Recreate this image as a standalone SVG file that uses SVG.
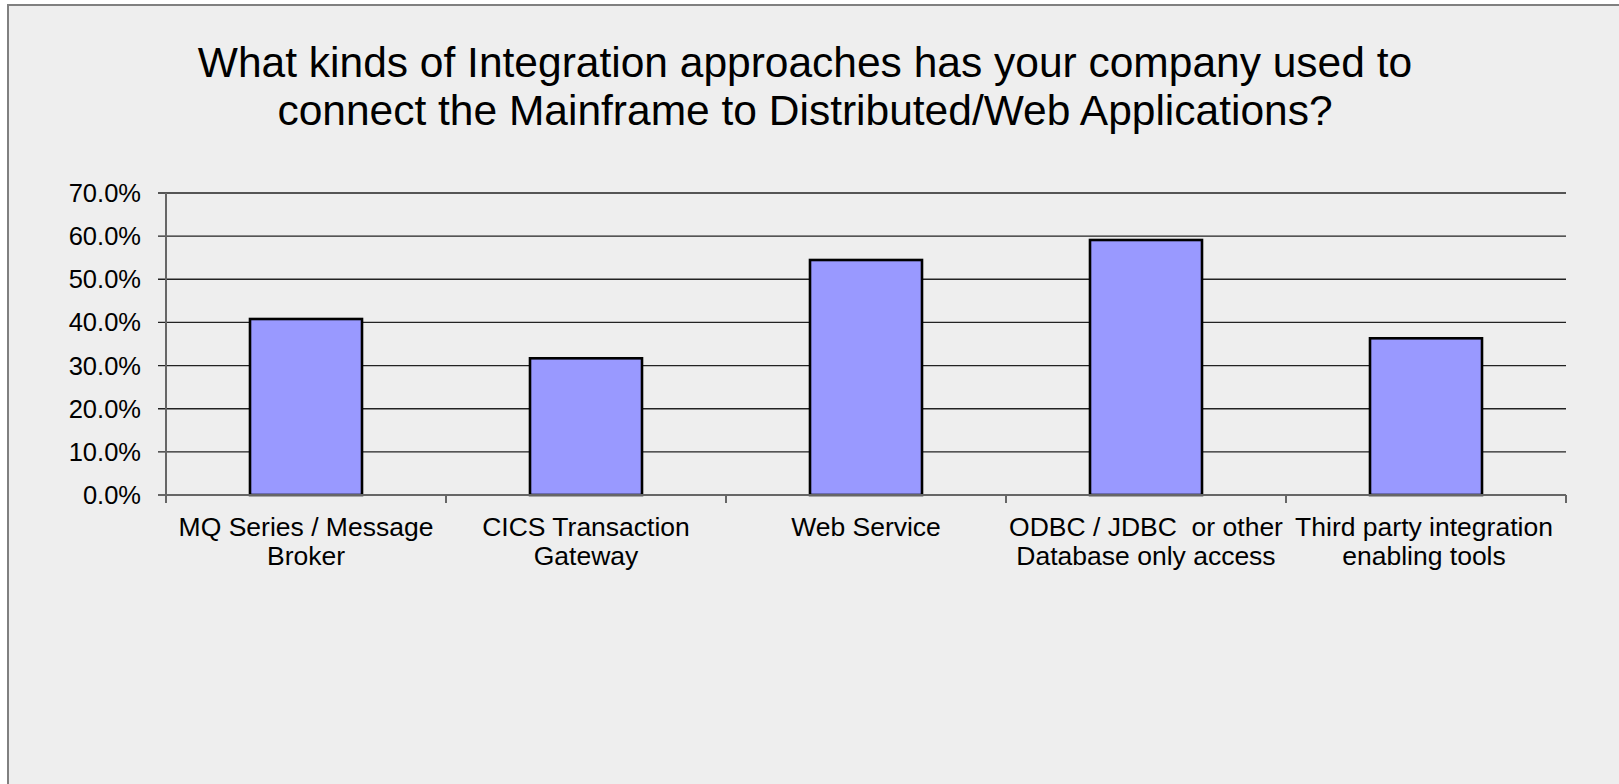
<svg xmlns="http://www.w3.org/2000/svg" width="1619" height="784" viewBox="0 0 1619 784">
  <style>
    text { font-family: "Liberation Sans", Arial, sans-serif; fill: #000; }
    .title { font-size: 42.5px; text-anchor: middle; }
    .ylab { font-size: 25.5px; text-anchor: end; }
    .xlab { font-size: 26.5px; text-anchor: middle; }
    .grid { stroke: #222; stroke-width: 1.4; fill: none; }
    .axis { stroke: #666; stroke-width: 2; fill: none; }
    .bar { fill: #9999FF; stroke: #000; stroke-width: 2.6; }
  </style>
  <rect x="0" y="0" width="1619" height="784" fill="#ffffff"/>
  <rect id="frame" x="8" y="5" width="1700" height="900" fill="#EEEEEE" stroke="#808080" stroke-width="2"/>

  <g id="title">
    <text class="title" x="805" y="77">What kinds of Integration approaches has your company used to</text>
    <text class="title" x="805" y="125">connect the Mainframe to Distributed/Web Applications?</text>
  </g>

  <g id="gridlines">
    <line class="grid" x1="158" y1="193" x2="1566" y2="193"/>
    <line class="grid" x1="158" y1="236.1" x2="1566" y2="236.1"/>
    <line class="grid" x1="158" y1="279.3" x2="1566" y2="279.3"/>
    <line class="grid" x1="158" y1="322.4" x2="1566" y2="322.4"/>
    <line class="grid" x1="158" y1="365.6" x2="1566" y2="365.6"/>
    <line class="grid" x1="158" y1="408.7" x2="1566" y2="408.7"/>
    <line class="grid" x1="158" y1="451.9" x2="1566" y2="451.9"/>
  </g>

  <g id="y-axis">
    <line class="axis" x1="166" y1="193" x2="166" y2="503"/>
    <text class="ylab" x="141" y="202">70.0%</text>
    <text class="ylab" x="141" y="245.1">60.0%</text>
    <text class="ylab" x="141" y="288.3">50.0%</text>
    <text class="ylab" x="141" y="331.4">40.0%</text>
    <text class="ylab" x="141" y="374.6">30.0%</text>
    <text class="ylab" x="141" y="417.7">20.0%</text>
    <text class="ylab" x="141" y="460.9">10.0%</text>
    <text class="ylab" x="141" y="504">0.0%</text>
  </g>

  <g id="bars">
    <rect id="bar-mq" class="bar" x="250" y="319" width="112" height="176"/>
    <rect id="bar-cics" class="bar" x="530" y="358.3" width="112" height="136.7"/>
    <rect id="bar-web" class="bar" x="810" y="260" width="112" height="235"/>
    <rect id="bar-odbc" class="bar" x="1090" y="240" width="112" height="255"/>
    <rect id="bar-third" class="bar" x="1370" y="338.3" width="112" height="156.7"/>
  </g>

  <g id="x-axis">
    <line class="axis" x1="158" y1="495" x2="1566" y2="495"/>
    <line class="axis" x1="446" y1="495" x2="446" y2="503"/>
    <line class="axis" x1="726" y1="495" x2="726" y2="503"/>
    <line class="axis" x1="1006" y1="495" x2="1006" y2="503"/>
    <line class="axis" x1="1286" y1="495" x2="1286" y2="503"/>
    <line class="axis" x1="1566" y1="495" x2="1566" y2="503"/>
    <text class="xlab" x="306" y="536">MQ Series / Message</text>
    <text class="xlab" x="306" y="565">Broker</text>
    <text class="xlab" x="586" y="536">CICS Transaction</text>
    <text class="xlab" x="586" y="565">Gateway</text>
    <text class="xlab" x="866" y="536">Web Service</text>
    <text class="xlab" x="1146" y="536" xml:space="preserve">ODBC / JDBC  or other</text>
    <text class="xlab" x="1146" y="565">Database only access</text>
    <text class="xlab" x="1424" y="536">Third party integration</text>
    <text class="xlab" x="1424" y="565">enabling tools</text>
  </g>
</svg>
